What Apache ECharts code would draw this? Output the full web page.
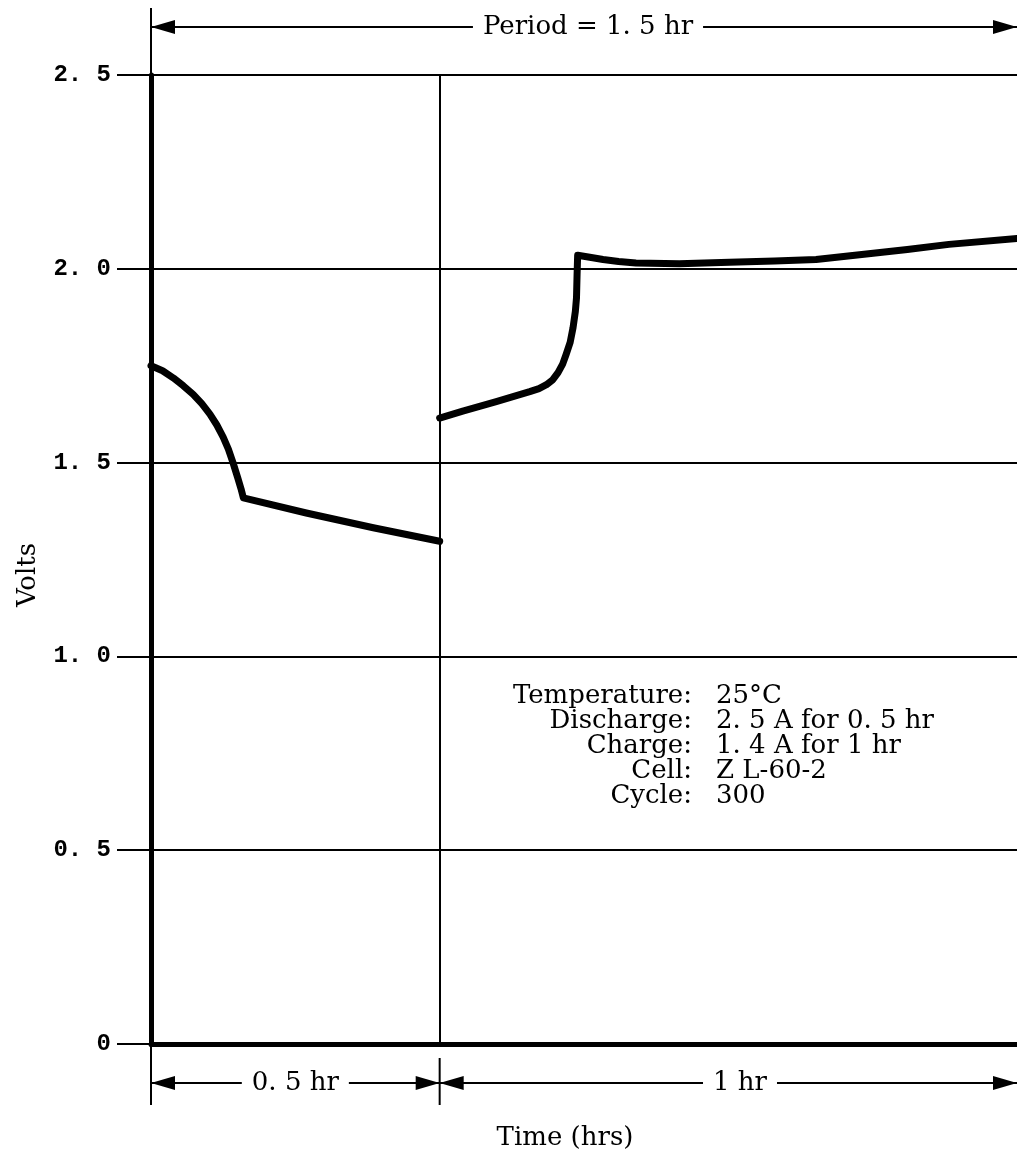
<!DOCTYPE html>
<html>
<head>
<meta charset="utf-8">
<script src="https://cdn.jsdelivr.net/npm/echarts@6/dist/echarts.min.js"></script>
<style>
html,body{margin:0;padding:0;background:#fff;}
#chart{width:1017px;height:1156px;}
</style>
</head>
<body>
<div id="chart"></div>
<script>
// ---- data ----
const dischargeTime  = [0, 0.02, 0.039, 0.056, 0.073, 0.088, 0.102, 0.114, 0.125, 0.134, 0.142, 0.150, 0.156, 0.160, 0.269, 0.385, 0.5];
const dischargeVolts = [1.750, 1.737, 1.718, 1.698, 1.676, 1.652, 1.625, 1.597, 1.566, 1.535, 1.500, 1.462, 1.432, 1.409, 1.370, 1.332, 1.297];
const chargeTime  = [0.5, 0.54, 0.598, 0.656, 0.672, 0.685, 0.696, 0.705, 0.713, 0.719, 0.726, 0.731, 0.735, 0.737, 0.738, 0.739, 0.76, 0.783, 0.81, 0.84, 0.915, 1.002, 1.08, 1.152, 1.239, 1.31, 1.382, 1.5];
const chargeVolts = [1.615, 1.633, 1.657, 1.683, 1.691, 1.701, 1.714, 1.732, 1.754, 1.779, 1.81, 1.848, 1.89, 1.925, 1.985, 2.035, 2.030, 2.024, 2.019, 2.015, 2.013, 2.017, 2.020, 2.024, 2.038, 2.050, 2.063, 2.078];
const yTickValues = [0, 0.5, 1.0, 1.5, 2.0, 2.5];
const yTickLabels = ['0', '0. 5', '1. 0', '1. 5', '2. 0', '2. 5'];
const periodLabel = 'Period = 1. 5 hr';
const dischargeSpanLabel = '0. 5 hr';
const chargeSpanLabel = '1 hr';
const xAxisTitle = 'Time (hrs)';
const yAxisTitle = 'Volts';
const infoKeys   = ['Temperature:', 'Discharge:', 'Charge:', 'Cell:', 'Cycle:'];
const infoValues = ['25°C', '2. 5 A for 0. 5 hr', '1. 4 A for 1 hr', 'Z L-60-2', '300'];

const SERIF = '"DejaVu Serif", "Liberation Serif", serif';
const chart = echarts.init(document.getElementById('chart'), null, {renderer: 'canvas'});

function pairs(xs, ys) { return xs.map((x, i) => [x, ys[i]]); }

chart.setOption({
  backgroundColor: '#fff',
  animation: false,
  grid: {left: 151, top: 75, width: 867, height: 969},
  xAxis: {
    type: 'value', min: 0, max: 1.5,
    axisLine: {show: true, lineStyle: {color: '#000', width: 5}},
    axisTick: {show: false}, axisLabel: {show: false}, splitLine: {show: false}
  },
  yAxis: {
    type: 'value', min: 0, max: 2.5, interval: 0.5,
    axisLine: {show: true, lineStyle: {color: '#000', width: 5}},
    axisTick: {show: true, length: 34, lineStyle: {color: '#000', width: 2}},
    axisLabel: {
      margin: 40, color: '#000', fontFamily: '"Liberation Mono", monospace', fontWeight: 'bold', fontSize: 24,
      formatter: v => { const i = yTickValues.findIndex(t => Math.abs(t - v) < 1e-6); return i >= 0 ? yTickLabels[i] : ''; }
    },
    splitLine: {show: true, lineStyle: {color: '#000', width: 2}}
  },
  series: [
    {
      type: 'line', name: 'Discharge', data: pairs(dischargeTime, dischargeVolts),
      showSymbol: false, smooth: false, lineStyle: {color: '#000', width: 7, cap: 'round', join: 'round'},
      markLine: {
        silent: true, symbol: ['none', 'none'], label: {show: false},
        lineStyle: {color: '#000', width: 2, type: 'solid'},
        data: [[{coord: [0.5, 0]}, {coord: [0.5, 2.5]}]]
      }
    },
    {
      type: 'line', name: 'Charge', data: pairs(chargeTime, chargeVolts),
      showSymbol: false, smooth: false, lineStyle: {color: '#000', width: 7, cap: 'round', join: 'round'}
    }
  ]
});

// annotation graphics positioned through the chart's own scales
const p0 = chart.convertToPixel({gridIndex: 0}, [0, 0]);
const pMid = chart.convertToPixel({gridIndex: 0}, [0.5, 0]);
const pEnd = chart.convertToPixel({gridIndex: 0}, [1.5, 0]);
const pTop = chart.convertToPixel({gridIndex: 0}, [0, 2.5]);
const x0 = p0[0], xm = pMid[0], xe = pEnd[0], yBot = p0[1], yTop = pTop[1];
const yPer = 27, ySpan = 1083;
const AH = 24, AW = 7;

function line(x1, y1, x2, y2, w) {
  return {type: 'line', shape: {x1, y1, x2, y2}, style: {stroke: '#000', lineWidth: w}, z: 10};
}
function head(tipX, y, dir) { // dir -1 points left, +1 points right
  return {type: 'polygon', shape: {points: [[tipX, y], [tipX - dir * AH, y - AW], [tipX - dir * AH, y + AW]]}, style: {fill: '#000'}, z: 11};
}
function label(text, x, y, align) {
  return {type: 'text', x, y, z: 12, style: {text, fill: '#000', font: '26px ' + SERIF, textAlign: align || 'center', textVerticalAlign: 'middle', backgroundColor: '#fff', padding: [0, 10]}};
}
function plain(text, x, y, align) {
  return {type: 'text', x, y, z: 12, style: {text, fill: '#000', font: '26px ' + SERIF, textAlign: align, textVerticalAlign: 'middle'}};
}

const g = [];
// period arrow on top
g.push(line(x0, 8, x0, yTop, 2));
g.push(line(x0, yPer, xe, yPer, 2));
g.push(head(x0, yPer, -1), head(xe, yPer, 1));
g.push(label(periodLabel, (x0 + xe) / 2 + 4, yPer));
// span arrows below axis
g.push(line(x0, yBot, x0, 1105, 2));
g.push(line(xm, yBot + 14, xm, 1105, 2));
g.push(line(x0, ySpan, xe, ySpan, 2));
g.push(head(x0, ySpan, -1), head(xm, ySpan, 1), head(xm, ySpan, -1), head(xe, ySpan, 1));
g.push(label(dischargeSpanLabel, (x0 + xm) / 2, ySpan));
g.push(label(chargeSpanLabel, 740, ySpan));
// axis titles
g.push({type: 'text', x: 565, y: 1138, style: {text: xAxisTitle, fill: '#000', font: '26px ' + SERIF, textAlign: 'center', textVerticalAlign: 'middle'}});
g.push({type: 'text', x: 28, y: 575, rotation: Math.PI / 2, style: {text: yAxisTitle, fill: '#000', font: '26px ' + SERIF, textAlign: 'center', textVerticalAlign: 'middle'}});
// info block
infoKeys.forEach((k, i) => {
  const y = 696 + i * 25;
  g.push(plain(k, 692, y, 'right'));
  g.push(plain(infoValues[i], 716, y, 'left'));
});
chart.setOption({graphic: {elements: g}});
</script>
</body>
</html>
